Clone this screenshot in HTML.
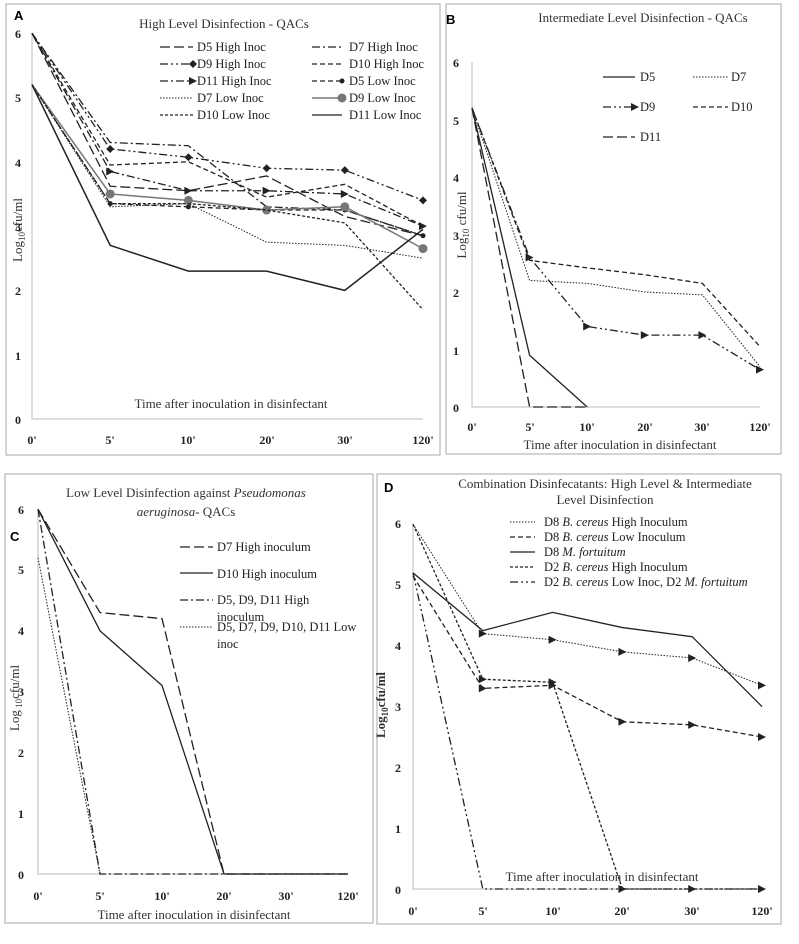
<!DOCTYPE html>
<html><head><meta charset="utf-8"><style>
html,body{margin:0;padding:0;background:#fff;}
svg{display:block;font-family:"Liberation Serif",serif;}
.t{font-size:13px;fill:#333;}
.tk{font-size:12px;font-weight:bold;fill:#222;}
.lg{font-size:12.5px;fill:#222;}
.ab{font-family:"Liberation Sans",sans-serif;font-weight:bold;font-size:13px;}
</style></head><body>
<svg id="s" width="799" height="944" viewBox="0 0 799 944">
<rect x="6" y="4" width="434" height="451" fill="none" stroke="#aaa"/>
<rect x="446" y="4" width="335" height="450" fill="none" stroke="#aaa"/>
<rect x="5" y="474" width="368" height="449" fill="none" stroke="#aaa"/>
<rect x="377" y="474" width="404" height="450" fill="none" stroke="#aaa"/>
<g id="lines"></g>
<!-- Panel A text -->
<text x="14" y="20" class="ab">A</text>
<text x="224" y="28" class="t" text-anchor="middle" font-size="14">High Level Disinfection  - QACs</text>
<g class="tk" text-anchor="middle"><text x="18" y="38">6</text><text x="18" y="102">5</text><text x="18" y="167">4</text><text x="18" y="231">3</text><text x="18" y="295">2</text><text x="18" y="360">1</text><text x="18" y="424">0</text>
<text x="32" y="444">0'</text><text x="110" y="444">5'</text><text x="188" y="444">10'</text><text x="267" y="444">20'</text><text x="345" y="444">30'</text><text x="423" y="444">120'</text></g>
<text x="231" y="408" class="t" text-anchor="middle">Time after inoculation in disinfectant</text>
<text transform="translate(22,230) rotate(-90)" class="t" text-anchor="middle">Log<tspan font-size="9" dy="3">10</tspan><tspan dy="-3">cfu/ml</tspan></text>
<g class="lg"><text x="197" y="51">D5 High Inoc</text><text x="349" y="51">D7 High Inoc</text>
<text x="197" y="68">D9 High Inoc</text><text x="349" y="68">D10 High Inoc</text>
<text x="197" y="85">D11 High Inoc</text><text x="349" y="85">D5 Low Inoc</text>
<text x="197" y="102">D7 Low Inoc</text><text x="349" y="102">D9 Low Inoc</text>
<text x="197" y="119">D10 Low Inoc</text><text x="349" y="119">D11 Low Inoc</text></g>
<!-- Panel B -->
<text x="446" y="24" class="ab">B</text>
<text x="643" y="22" class="t" text-anchor="middle" font-size="14">Intermediate Level Disinfection - QACs</text>
<g class="tk" text-anchor="middle"><text x="456" y="67">6</text><text x="456" y="125">5</text><text x="456" y="182">4</text><text x="456" y="240">3</text><text x="456" y="297">2</text><text x="456" y="355">1</text><text x="456" y="412">0</text>
<text x="472" y="431">0'</text><text x="530" y="431">5'</text><text x="587" y="431">10'</text><text x="645" y="431">20'</text><text x="702" y="431">30'</text><text x="760" y="431">120'</text></g>
<text x="620" y="449" class="t" text-anchor="middle">Time after inoculation in disinfectant</text>
<text transform="translate(466,225) rotate(-90)" class="t" text-anchor="middle">Log<tspan font-size="9" dy="3">10</tspan><tspan dy="-3"> cfu/ml</tspan></text>
<g class="lg" font-size="11"><text x="640" y="81">D5</text><text x="731" y="81">D7</text><text x="640" y="111">D9</text><text x="731" y="111">D10</text><text x="640" y="141">D11</text></g>
<!-- Panel C -->
<text x="10" y="541" class="ab" font-weight="normal">C</text>
<text x="186" y="497" class="t" text-anchor="middle">Low Level Disinfection against <tspan font-style="italic">Pseudomonas</tspan></text>
<text x="186" y="516" class="t" text-anchor="middle"><tspan font-style="italic">aeruginosa</tspan>- QACs</text>
<g class="tk" text-anchor="middle"><text x="21" y="514">6</text><text x="21" y="574">5</text><text x="21" y="635">4</text><text x="21" y="696">3</text><text x="21" y="757">2</text><text x="21" y="818">1</text><text x="21" y="879">0</text>
<text x="38" y="900">0'</text><text x="100" y="900">5'</text><text x="162" y="900">10'</text><text x="224" y="900">20'</text><text x="286" y="900">30'</text><text x="348" y="900">120'</text></g>
<text x="194" y="919" class="t" text-anchor="middle">Time after inoculation in disinfectant</text>
<text transform="translate(19,698) rotate(-90)" class="t" text-anchor="middle">Log<tspan font-size="9" dy="3"> 10</tspan><tspan dy="-3">cfu/ml</tspan></text>
<g class="lg"><text x="217" y="551">D7 High inoculum</text><text x="217" y="578">D10 High inoculum</text>
<text x="217" y="604">D5, D9, D11 High</text><text x="217" y="621">inoculum</text>
<text x="217" y="631">D5, D7, D9, D10, D11 Low</text><text x="217" y="648">inoc</text></g>
<!-- Panel D -->
<text x="384" y="492" class="ab">D</text>
<text x="605" y="488" class="t" text-anchor="middle">Combination Disinfecatants: High Level &amp; Intermediate</text>
<text x="605" y="504" class="t" text-anchor="middle">Level Disinfection</text>
<g class="tk" text-anchor="middle"><text x="398" y="528">6</text><text x="398" y="589">5</text><text x="398" y="650">4</text><text x="398" y="711">3</text><text x="398" y="772">2</text><text x="398" y="833">1</text><text x="398" y="894">0</text>
<text x="413" y="915">0'</text><text x="483" y="915">5'</text><text x="553" y="915">10'</text><text x="622" y="915">20'</text><text x="692" y="915">30'</text><text x="762" y="915">120'</text></g>
<text x="602" y="881" class="t" text-anchor="middle">Time after inoculation in disinfectant</text>
<text transform="translate(385,705) rotate(-90)" class="t" text-anchor="middle" font-weight="bold">Log<tspan font-size="9" dy="3">10</tspan><tspan dy="-3">cfu/ml</tspan></text>
<g class="lg" font-size="11.5"><text x="544" y="526">D8 <tspan font-style="italic">B. cereus</tspan> High Inoculum</text>
<text x="544" y="541">D8 <tspan font-style="italic">B. cereus</tspan> Low Inoculum</text>
<text x="544" y="556">D8 <tspan font-style="italic">M. fortuitum</tspan></text>
<text x="544" y="571">D2 <tspan font-style="italic">B. cereus</tspan> High Inoculum</text>
<text x="544" y="586">D2 <tspan font-style="italic">B. cereus</tspan> Low Inoc, D2 <tspan font-style="italic">M. fortuitum</tspan></text></g>
</svg>
<script>
var NS="http://www.w3.org/2000/svg",G=document.getElementById("lines");
function el(t,a){var e=document.createElementNS(NS,t);for(var k in a)e.setAttribute(k,a[k]);G.appendChild(e);return e;}
var LD="10,4",DD="8,3,2,3",D3="8,3,2,3,2,3",DA="5,3",DT="1.5,1.5",SD="3,2";
function panel(P,series,legend){
 el("polyline",{points:P.x0+","+(P.y0-6*P.u)+" "+P.x0+","+P.y0+" "+(P.x0+5*P.dx)+","+P.y0,fill:"none",stroke:"#bbb","stroke-width":1});
 series.forEach(function(s){var pts=s.v.map(function(v,i){return v==null?null:[P.x0+i*P.dx,P.y0-v*P.u];}).filter(function(p){return p;});
  el("polyline",{points:pts.map(function(p){return p.join(",")}).join(" "),fill:"none",stroke:s.c||"#222","stroke-width":s.w||1.3,"stroke-dasharray":s.d||""});
  if(s.m)pts.slice(1).forEach(function(p){mk(s.m,p[0],p[1],s.c||"#222");});});
 (legend||[]).forEach(function(l){el("line",{x1:l[0],y1:l[2],x2:l[1],y2:l[2],stroke:l[4]||"#222","stroke-width":l[5]||1.3,"stroke-dasharray":l[3]||""});if(l[6])mk(l[6],l[1],l[2],l[4]||"#222");});
}
function mk(m,x,y,c){if(m=="o")el("circle",{cx:x,cy:y,r:m=="o"?4.5:3,fill:c});else if(m=="d")el("polygon",{points:[x,y-4,x+4,y,x,y+4,x-4,y].join(","),fill:c});else if(m=="s")el("circle",{cx:x,cy:y,r:2.5,fill:c});else if(m=="t")el("polygon",{points:[x-4,y-4,x+4,y,x-4,y+4].join(","),fill:c});}
// A
panel({x0:32,dx:78.2,y0:419,u:64.3},[
 {v:[6,3.62,3.55,3.78,3.15,2.85],d:LD},
 {v:[6,4.3,4.25,3.3,3.25,2.85],d:DD},
 {v:[6,4.2,4.07,3.9,3.87,3.4],d:D3,m:"d"},
 {v:[6,3.95,4.0,3.45,3.65,3.0],d:DA},
 {v:[6,3.85,3.55,3.55,3.5,3.0],d:DD,m:"t"},
 {v:[5.2,3.35,3.3,3.25,3.25,2.85],d:DA,m:"s"},
 {v:[5.2,3.3,3.35,2.75,2.7,2.5],d:DT,w:1},
 {v:[5.2,3.5,3.4,3.25,3.3,2.65],c:"#777",w:1.5,m:"o"},
 {v:[5.2,3.35,3.35,3.25,3.05,1.7],d:SD},
 {v:[5.2,2.7,2.3,2.3,2.0,2.95],w:1.5}
],[[160,193,47,LD],[312,342,47,DD],[160,193,64,D3,0,0,"d"],[312,342,64,DA],[160,193,81,DD,0,0,"t"],[312,342,81,DA,0,0,"s"],[160,193,98,DT,0,1],[312,342,98,"","#777",1.5,"o"],[160,193,115,SD],[312,342,115,""]]);
// B
panel({x0:472,dx:57.6,y0:407,u:57.5},[
 {v:[5.2,0.9,0]},
 {v:[5.2,2.2,2.15,2.0,1.95,0.7],d:DT,w:1},
 {v:[5.2,2.6,1.4,1.25,1.25,0.65],d:D3,m:"t"},
 {v:[5.2,2.55,2.42,2.3,2.15,1.05],d:DA},
 {v:[5.2,0,0],d:LD}
],[[603,635,77,""],[693,728,77,DT,0,1],[603,635,107,D3,0,0,"t"],[693,728,107,DA],[603,635,137,LD]]);
// C
panel({x0:38,dx:62,y0:874,u:60.8},[
 {v:[6,4.3,4.2,0,0,0],d:LD},
 {v:[6,4.0,3.1,0,0,0]},
 {v:[6,0,0,0,0,0],d:DD},
 {v:[5.2,0],d:DT,w:1}
],[[180,213,547,LD],[180,213,573,""],[180,213,600,DD],[180,213,627,DT,0,1]]);
// D
panel({x0:413,dx:69.8,y0:889,u:60.8},[
 {v:[6,4.2,4.1,3.9,3.8,3.35],d:DT,w:1,m:"t"},
 {v:[5.15,3.3,3.35,2.75,2.7,2.5],d:DA,m:"t"},
 {v:[5.2,4.25,4.55,4.3,4.15,3.0]},
 {v:[6,3.45,3.4,0,0,0],d:SD,m:"t"},
 {v:[5.2,0,0,0,0,0],d:D3}
],[[510,535,522,DT,0,1],[510,535,537,DA],[510,535,552,""],[510,535,567,SD],[510,535,582,D3]]);
</script>
</body></html>
